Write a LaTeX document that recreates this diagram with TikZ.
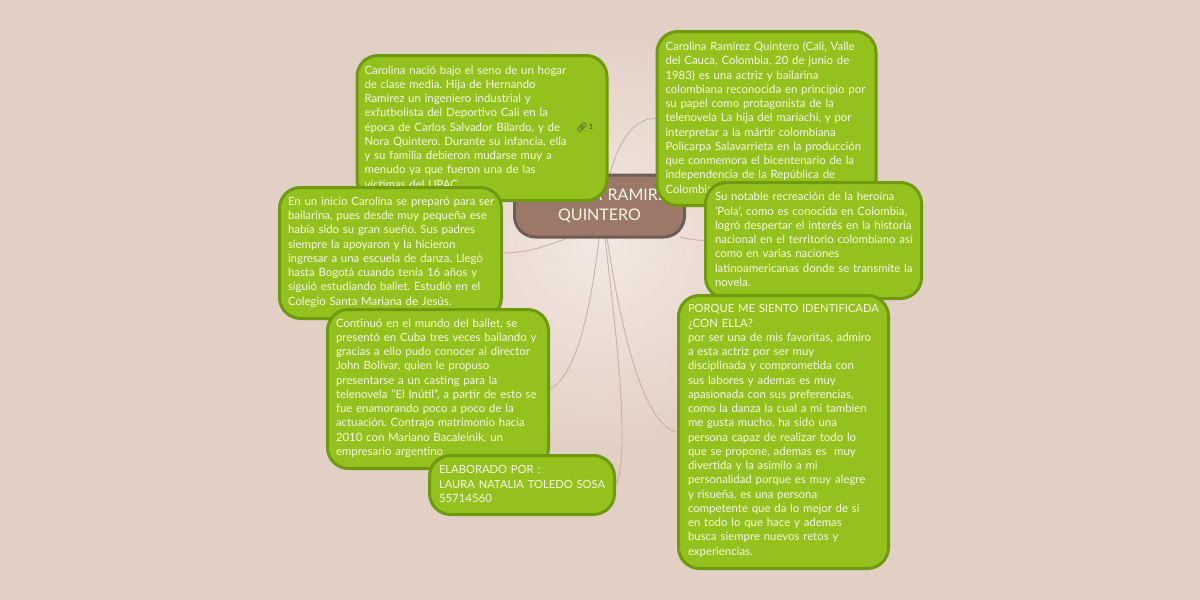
\documentclass[tikz,border=0pt]{standalone}
\usepackage{fontspec}
\setmainfont{Lato}
\newfontfamily\emojifont{Noto Emoji}
\usetikzlibrary{backgrounds}
\frenchspacing
\definecolor{bgout}{RGB}{226,208,197}
\definecolor{bgin}{RGB}{243,232,226}
\definecolor{leaf}{RGB}{149,193,31}
\definecolor{leafedge}{RGB}{111,153,14}
\definecolor{hub}{RGB}{156,120,105}
\definecolor{hubedge}{RGB}{110,93,85}
\definecolor{wire}{RGB}{202,178,166}
\definecolor{ink}{RGB}{244,248,228}
\newcommand\looselines{\hyphenpenalty=10000\relax\rightskip=-40pt plus 1fil\relax}
\newcommand\capsline[1]{{\fontsize{11.2}{14.25}\selectfont #1}}
\tikzset{
  x=1pt,y=-1pt,
  leafbox/.style={draw=leafedge,fill=leaf,line width=3pt,rounded corners=21pt,inner xsep=0pt,inner ysep=0pt,
    text=ink,align=left,font=\fontsize{11.4}{14.25}\selectfont,
    execute at begin node=\looselines,execute at end node=\par\vspace{2pt}},
  hubbox/.style={draw=hubedge,fill=hub,line width=3pt,rounded corners=21pt,inner xsep=0pt,inner ysep=0pt,
    text=ink,align=center,font=\fontsize{16}{20}\selectfont},
  wirelink/.style={draw=wire,line width=0.9pt},
}
\begin{document}
\begin{tikzpicture}
\useasboundingbox (0,0) rectangle (1200,600);

\coordinate (ctop) at (610,173);
\coordinate (cright) at (680,237);
\coordinate (cleft) at (567,238);
\coordinate (cbotl) at (599,238);
\coordinate (cbotm) at (605,238);
\coordinate (cbotr) at (607,238);

\node[hubbox,minimum width=170pt,minimum height=62pt,text width=165pt] (hubnode) at (599.5,206)
  {CAROLINA RAMIREZ\\QUINTERO};

\node[leafbox,minimum width=250pt,minimum height=145pt,text width=235pt] (nacio) at (482,128)
  {Carolina nació bajo el seno de un hogar\\
   de clase media. Hija de Hernando\\
   Ramírez un ingeniero industrial y\\
   exfutbolista del Deportivo Cali en la\\
   época de Carlos Salvador Bilardo, y de\\
   Nora Quintero. Durante su infancia, ella\\
   y su familia debieron mudarse muy a\\
   menudo ya que fueron una de las\\
   víctimas del UPAC};
\node[font=\emojifont\fontsize{9}{9}\selectfont,text=black!75,inner sep=0pt] (linkicon) at (582,127.5) {🔗};
\node[font=\fontsize{7.5}{8}\selectfont,text=black!75,inner sep=0pt] (linkcount) at (591,127) {1};

\node[leafbox,minimum width=219pt,minimum height=174pt,text width=202pt] (bio) at (766.5,118.5)
  {Carolina Ramírez Quintero (Cali, Valle\\
   del Cauca, Colombia, 20 de junio de\\
   1983) es una actriz y bailarina\\
   colombiana reconocida en principio por\\
   su papel como protagonista de la\\
   telenovela La hija del mariachi, y por\\
   interpretar a la mártir colombiana\\
   Policarpa Salavarrieta en la producción\\
   que conmemora el bicentenario de la\\
   independencia de la República de\\
   Colombia};

\node[leafbox,minimum width=216pt,minimum height=116pt,text width=197pt] (pola) at (813.5,240.5)
  {Su notable recreación de la heroína\\
   'Pola', como es conocida en Colombia,\\
   logró despertar el interés en la historia\\
   nacional en el territorio colombiano así\\
   como en varias naciones\\
   latinoamericanas donde se transmite la\\
   novela.};

\node[leafbox,minimum width=222pt,minimum height=131pt,text width=205pt] (inicio) at (390.5,253)
  {En un inicio Carolina se preparó para ser\\
   bailarina, pues desde muy pequeña ese\\
   había sido su gran sueño. Sus padres\\
   siempre la apoyaron y la hicieron\\
   ingresar a una escuela de danza. Llegó\\
   hasta Bogotá cuando tenía 16 años y\\
   siguió estudiando ballet. Estudió en el\\
   Colegio Santa Mariana de Jesús.};

\node[leafbox,minimum width=221pt,minimum height=159pt,text width=204pt] (ballet) at (438,389)
  {Continuó en el mundo del ballet, se\\
   presentó en Cuba tres veces bailando y\\
   gracias a ello pudo conocer al director\\
   John Bolívar, quien le propuso\\
   presentarse a un casting para la\\
   telenovela "El Inútil", a partir de esto se\\
   fue enamorando poco a poco de la\\
   actuación. Contrajo matrimonio hacia\\
   2010 con Mariano Bacaleinik, un\\
   empresario argentino};

\node[leafbox,minimum width=185pt,minimum height=59pt,text width=166pt] (autora) at (522,485)
  {\capsline{ELABORADO POR :}\\
   \capsline{LAURA NATALIA TOLEDO SOSA}\\
   55714560};

\node[leafbox,minimum width=210pt,minimum height=273pt,text width=191pt] (porque) at (783.5,432)
  {\capsline{PORQUE ME SIENTO IDENTIFICADA}\\
   ¿CON ELLA?\\
   por ser una de mis favoritas, admiro\\
   a esta actriz por ser muy\\
   disciplinada y comprometida con\\
   sus labores y ademas es muy\\
   apasionada con sus preferencias,\\
   como la danza la cual a mi tambien\\
   me gusta mucho, ha sido una\\
   persona capaz de realizar todo lo\\
   que se propone, ademas es~ muy\\
   divertida y la asimilo a mi\\
   personalidad porque es muy alegre\\
   y risueña, es una persona\\
   competente que da lo mejor de si\\
   en todo lo que hace y ademas\\
   busca siempre nuevos retos y\\
   experiencias.};

\begin{scope}[on background layer]
  \fill[bgout] (0,0) rectangle (1200,600);
  \shade[inner color=bgin,outer color=bgout] (600,240) circle (210);
  \draw[wirelink] (ctop) .. controls (618,145) and (632,118) .. (bio.west);
  \draw[wirelink] (cright) .. controls (687,239) and (696,240) .. (pola.west);
  \draw[wirelink] (cleft) .. controls (545,247) and (525,253) .. (inicio.east);
  \draw[wirelink] (cbotl) .. controls (592,300) and (578,375) .. (ballet.east);
  \draw[wirelink] (cbotm) .. controls (612,300) and (632,450) .. (autora.east);
  \draw[wirelink] (cbotr) .. controls (618,310) and (640,425) .. (porque.west);
\end{scope}
\end{tikzpicture}
\end{document}
